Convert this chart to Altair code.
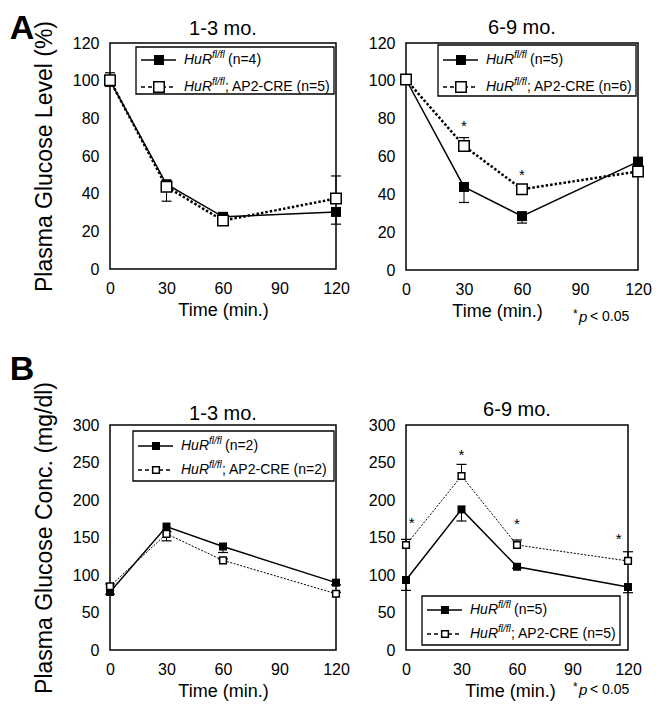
import altair as alt
import pandas as pd

FONT = "Liberation Sans"

time = [0, 30, 60, 120]
x_ticks = [0, 30, 60, 90, 120]

# Panel A: plasma glucose level (% of baseline)
a13_ctrl = [100.0, 45.0, 27.7, 30.3]
a13_ctrl_sem = [3.0, 9.0, 1.5, 6.5]
a13_cre = [100.2, 43.7, 25.7, 37.4]
a13_cre_sem = [4.0, 1.5, 1.0, 12.0]

a69_ctrl = [100.7, 43.9, 28.5, 57.3]
a69_ctrl_sem = [1.0, 8.2, 3.7, 2.0]
a69_cre = [100.7, 65.6, 42.7, 52.1]
a69_cre_sem = [1.0, 4.4, 2.0, 2.0]

# Panel B: plasma glucose concentration (mg/dl)
b13_ctrl = [77.4, 164.6, 138.0, 89.8]
b13_ctrl_sem = [3.0, 19.0, 8.0, 3.0]
b13_cre = [85.0, 154.9, 119.5, 75.0]
b13_cre_sem = [3.0, 3.0, 2.0, 2.0]

b69_ctrl = [93.3, 187.5, 111.0, 84.0]
b69_ctrl_sem = [13.8, 15.5, 2.0, 7.6]
b69_cre = [140.0, 232.0, 140.0, 118.7]
b69_cre_sem = [7.5, 15.5, 6.7, 12.3]

# significance stars (*p < 0.05)
sig_a69_x = [30, 60]
sig_a69_y = [78, 52.5]
sig_b69_x = [3, 30, 60, 115]
sig_b69_y = [175, 265, 173, 154]

panel_titles = ["1-3 mo.", "6-9 mo."]
n_a13 = ["(n=4)", "; AP2-CRE (n=5)"]
n_a69 = ["(n=5)", "; AP2-CRE (n=6)"]
n_b13 = ["(n=2)", "; AP2-CRE (n=2)"]
n_b69 = ["(n=5)", "; AP2-CRE (n=5)"]

one = pd.DataFrame({"k": [0]})


def legend_layers(bx, by, bw, bh, rows_y, rest, style):
    base = alt.Chart(one)
    L = [base.mark_rect(fill="white", stroke="black", strokeWidth=1.3).encode(
        x=alt.value(bx), x2=alt.value(bx + bw), y=alt.value(by), y2=alt.value(by + bh))]
    for i, ry in enumerate(rows_y):
        if i == 0:
            L.append(base.mark_rule(color="black", strokeWidth=1.5).encode(
                x=alt.value(bx + 5), x2=alt.value(bx + 40), y=alt.value(ry)))
            L.append(base.mark_point(shape="square", filled=True, fill="black", color="black",
                                     size=style["fsize"], opacity=1).encode(
                x=alt.value(bx + 23), y=alt.value(ry)))
        else:
            L.append(base.mark_rule(color="black", strokeWidth=1.5, strokeDash=[4, 3]).encode(
                x=alt.value(bx + 5), x2=alt.value(bx + 40), y=alt.value(ry)))
            L.append(base.mark_point(shape="square", filled=True, fill="white", stroke="black",
                                     strokeWidth=1.5, size=style["osize"], opacity=1).encode(
                x=alt.value(bx + 23), y=alt.value(ry)))
        L.append(base.mark_text(text="HuR", font=FONT, fontSize=14, fontStyle="italic",
                                align="left", baseline="middle", color="black").encode(
            x=alt.value(bx + 48), y=alt.value(ry)))
        L.append(base.mark_text(text="fl/fl", font=FONT, fontSize=10, fontStyle="italic",
                                align="left", baseline="middle", color="black").encode(
            x=alt.value(bx + 76), y=alt.value(ry - 5)))
        L.append(base.mark_text(text=rest[i], font=FONT, fontSize=14,
                                align="left", baseline="middle", color="black").encode(
            x=alt.value(bx + (92 if i == 0 else 89)), y=alt.value(ry)))
    return L


def footnote_layers(fx, fy):
    base = alt.Chart(one)
    return [
        base.mark_text(text="*", font=FONT, fontSize=12, align="left", baseline="middle",
                       color="black").encode(x=alt.value(fx), y=alt.value(fy - 3)),
        base.mark_text(text="p", font=FONT, fontSize=15, fontStyle="italic", align="left",
                       baseline="middle", color="black").encode(x=alt.value(fx + 6), y=alt.value(fy)),
        base.mark_text(text="< 0.05", font=FONT, fontSize=14, align="left", baseline="middle",
                       color="black").encode(x=alt.value(fx + 17), y=alt.value(fy)),
    ]


def panel(ctrl, ctrl_sem, cre, cre_sem, ymax, ystep, title, ytitle, style, legend,
          W, H, title_y, sig=None, letter=None, foot=None, xtitle_x=None):
    df = pd.DataFrame({
        "t": time,
        "ctrl": ctrl,
        "ctrl_lo": [v - e for v, e in zip(ctrl, ctrl_sem)],
        "cre": cre,
        "cre_hi": [v + e for v, e in zip(cre, cre_sem)],
    })
    xaxis_kw = dict(values=x_ticks, title="Time (min.)")
    if xtitle_x is not None:
        xaxis_kw["titleX"] = xtitle_x
    X = alt.X("t:Q", scale=alt.Scale(domain=[0, 120], nice=False, zero=False),
              axis=alt.Axis(**xaxis_kw))

    def Y(f):
        return alt.Y(f"{f}:Q", scale=alt.Scale(domain=[0, ymax], nice=False),
                     axis=alt.Axis(values=list(range(0, ymax + 1, ystep)), title=ytitle))

    base = alt.Chart(df)
    layers = [
        base.mark_rule(color="black", strokeWidth=1).encode(x=X, y=Y("cre"), y2="cre_hi:Q"),
        base.mark_tick(orient="horizontal", size=10, thickness=1.2, color="black", opacity=1).encode(
            x=X, y=Y("cre_hi")),
        base.mark_rule(color="black", strokeWidth=1).encode(x=X, y=Y("ctrl"), y2="ctrl_lo:Q"),
        base.mark_tick(orient="horizontal", size=10, thickness=1.2, color="black", opacity=1).encode(
            x=X, y=Y("ctrl_lo")),
        base.mark_line(color="black", strokeWidth=1.5).encode(x=X, y=Y("ctrl")),
        base.mark_line(color="black", strokeWidth=style["dw"], strokeDash=style["dash"]).encode(
            x=X, y=Y("cre")),
        base.mark_point(shape="square", filled=True, fill="black", color="black",
                        size=style["fsize"], opacity=1).encode(x=X, y=Y("ctrl")),
        base.mark_point(shape="square", filled=True, fill="white", stroke="black", strokeWidth=1.5,
                        size=style["osize"], opacity=1).encode(x=X, y=Y("cre")),
    ]
    if sig is not None:
        sdf = pd.DataFrame({"t": sig[0], "s": sig[1]})
        layers.append(alt.Chart(sdf).mark_text(text="*", font=FONT, fontSize=15, baseline="middle",
                                               dy=4, color="black").encode(x=X, y=Y("s")))
    layers += legend_layers(*legend, style)
    layers.append(alt.Chart(one).mark_text(text=panel_titles[title], font=FONT, fontSize=20,
                                           baseline="middle", align="center", color="black").encode(
        x=alt.value(W / 2), y=alt.value(title_y)))
    if letter is not None:
        layers.append(alt.Chart(one).mark_text(text=letter[0], font=FONT, fontSize=34,
                                               fontWeight="bold", baseline="middle",
                                               align="center", color="black").encode(
            x=alt.value(letter[1]), y=alt.value(letter[2])))
    if foot is not None:
        layers += footnote_layers(*foot)
    return alt.layer(*layers).properties(width=W, height=H)


style_a = {"fsize": 100, "osize": 110, "dw": 2.5, "dash": [2.5, 2]}
style_b = {"fsize": 64, "osize": 45, "dw": 1, "dash": [2, 1.5]}

pa1 = panel(a13_ctrl, a13_ctrl_sem, a13_cre, a13_cre_sem, 120, 20, 0,
            "Plasma Glucose Level (%)", style_a,
            (26, 4, 198, 47, [17, 44], n_a13), 226, 226, -14, letter=("A", -88, -14))
pa2 = panel(a69_ctrl, a69_ctrl_sem, a69_cre, a69_cre_sem, 120, 20, 1,
            None, style_a,
            (32, 2, 198, 51, [17, 44], n_a69), 232, 227, -15, sig=(sig_a69_x, sig_a69_y),
            foot=(167, 274), xtitle_x=91)
pb1 = panel(b13_ctrl, b13_ctrl_sem, b13_cre, b13_cre_sem, 300, 50, 0,
            "Plasma Glucose Conc. (mg/dl)", style_b,
            (23, 6, 201, 50, [21, 45], n_b13), 226, 225, -11, letter=("B", -88, -55))
pb2 = panel(b69_ctrl, b69_ctrl_sem, b69_cre, b69_cre_sem, 300, 50, 1,
            None, style_b,
            (16, 171, 198, 49, [185, 209], n_b69), 222, 225, -15, sig=(sig_b69_x, sig_b69_y),
            foot=(167, 265), xtitle_x=104)

chart = alt.vconcat(
    alt.hconcat(pa1, pa2, spacing=16),
    alt.hconcat(pb1, pb2, spacing=16),
    spacing=26,
).properties(
    padding={"left": 0, "top": 3, "right": 0, "bottom": 0}
).configure_view(
    stroke="black", strokeWidth=1.5
).configure_axis(
    grid=False, ticks=False, domain=False, labelFont=FONT, titleFont=FONT,
    labelColor="black", titleColor="black", labelFontSize=16, titleFontWeight="normal",
    labelPadding=11, labelFlush=False
).configure_axisX(
    titleFontSize=18, titlePadding=5, titleFontWeight="normal"
).configure_axisY(
    titleFontSize=23, titlePadding=16, titleFontWeight="normal"
)

chart.save("out.html", embed_options={"renderer": "svg", "actions": False})
